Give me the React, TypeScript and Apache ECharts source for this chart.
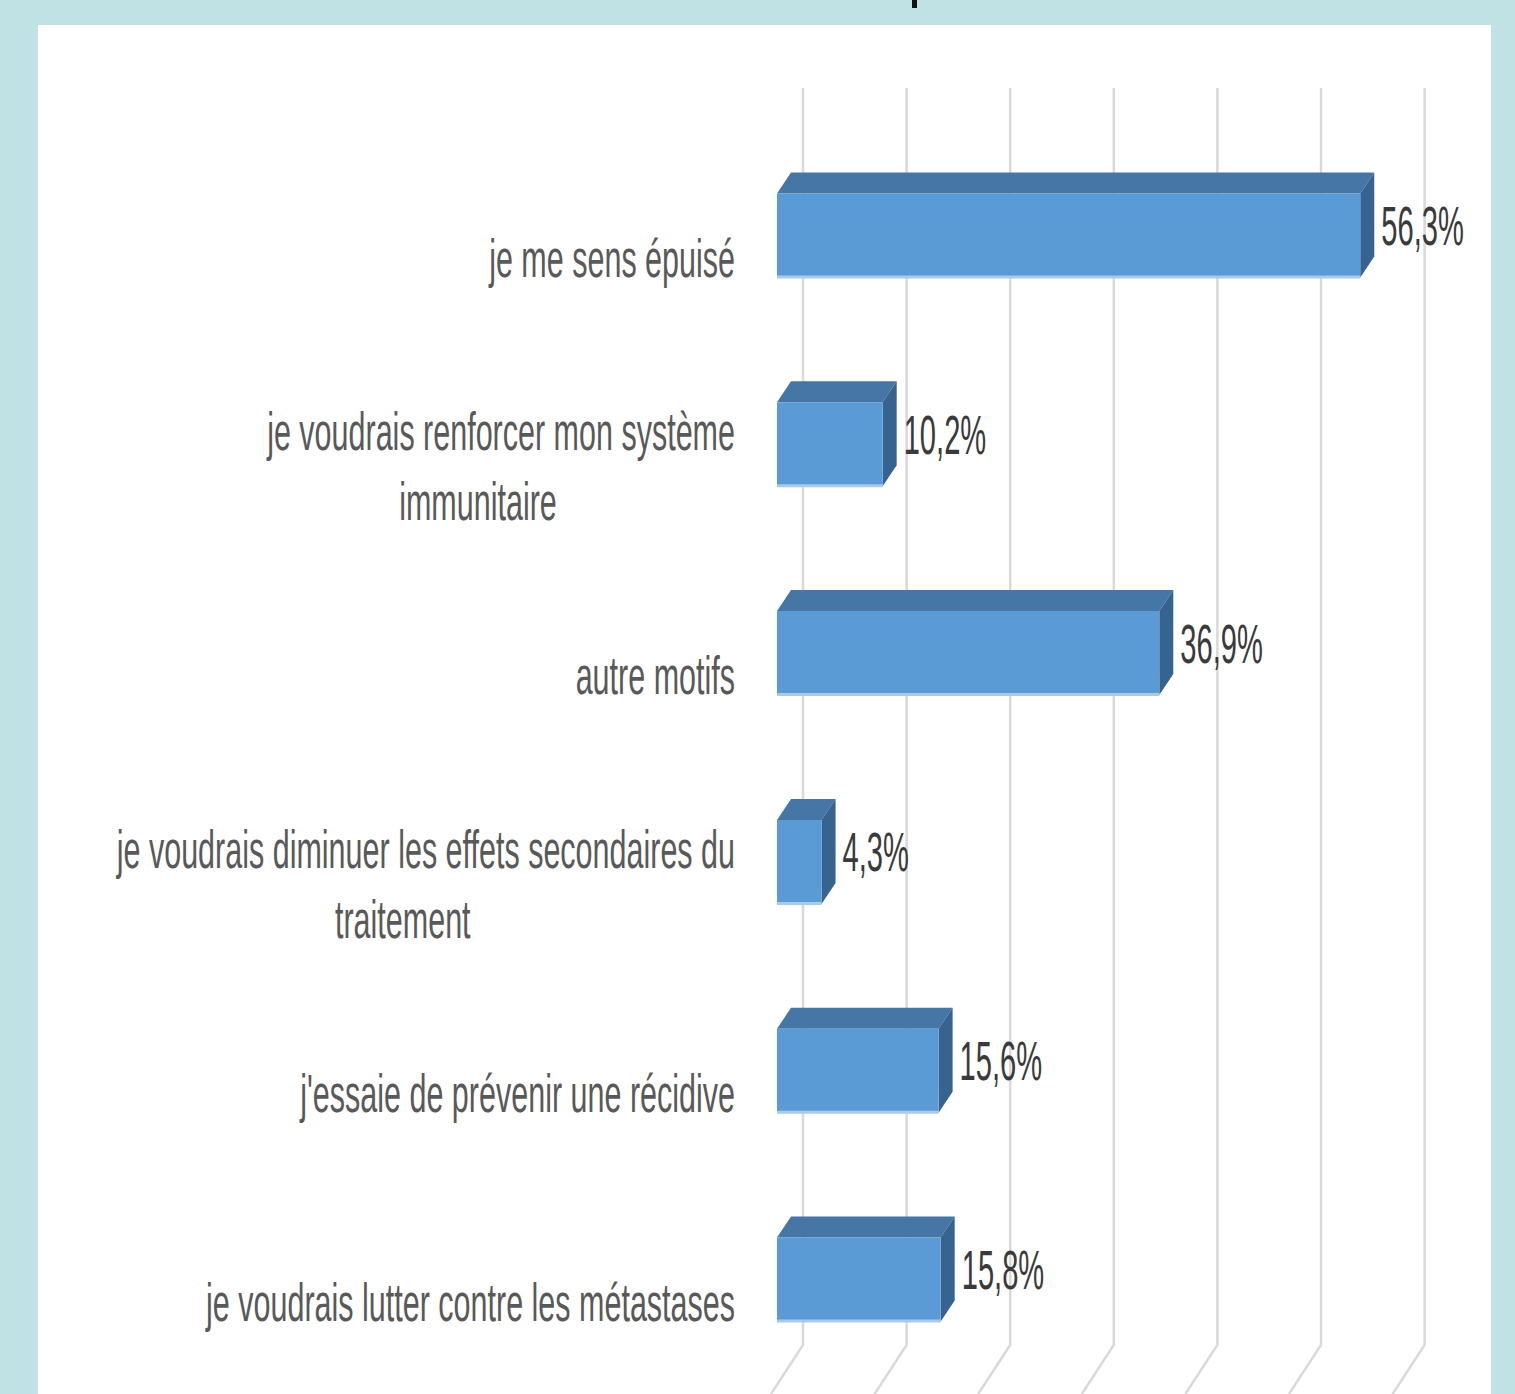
import React, { useEffect, useRef } from 'react';
import * as echarts from 'echarts';

const categories: string[] = [
  'je me sens épuisé',
  'je voudrais renforcer mon système\nimmunitaire',
  'autre motifs',
  'je voudrais diminuer les effets secondaires du\ntraitement',
  "j'essaie de prévenir une récidive",
  'je voudrais lutter contre les métastases',
];
const values: number[] = [56.3, 10.2, 36.9, 4.3, 15.6, 15.8];
const gridTicks: number[] = [0, 10, 20, 30, 40, 50, 60];

const FONT = '"Liberation Sans", Arial, sans-serif';
const CAT_SIZE = 54;
const CAT_SCALE = 0.565;
const VAL_SIZE = 56;
const VAL_SCALE = 0.52;

const DX = 14; // bar depth offset x
const DY = -21; // bar depth offset y
const WALL = 26; // back wall offset

function measure(text: string, size: number): number {
  const c = document.createElement('canvas').getContext('2d');
  if (!c) return text.length * size * 0.5;
  c.font = `${size}px ${FONT}`;
  return c.measureText(text).width;
}

function fmt(v: number): string {
  return v.toFixed(1).replace('.', ',') + '%';
}

export default function App() {
  const ref = useRef<HTMLDivElement>(null);
  useEffect(() => {
    if (!ref.current) return;
    const chart = echarts.init(ref.current, undefined, { renderer: 'svg' });

    const barData = values.map((v, i) => [v, i]);
    const tickData = gridTicks.map((t) => [t, 0]);

    const option: any = {
      animation: false,
      backgroundColor: '#c0e2e4',
      graphic: [
        {
          type: 'rect',
          z: -10,
          shape: { x: 38, y: 25, width: 1453, height: 1400 },
          style: { fill: '#ffffff' },
        },
        {
          type: 'rect',
          z: 100,
          shape: { x: 912, y: 0, width: 5, height: 8 },
          style: { fill: '#111111' },
        },
      ],
      grid: { left: 777, right: 116.4, top: 131, bottom: 10 },
      xAxis: {
        type: 'value',
        min: 0,
        max: 60,
        interval: 10,
        show: false,
      },
      yAxis: {
        type: 'category',
        data: categories,
        inverse: true,
        show: false,
      },
      series: [
        {
          type: 'custom',
          z: 1,
          data: tickData,
          encode: { x: 0, y: 1 },
          clip: false,
          renderItem: (params: any, api: any) => {
            const x = api.coord([api.value(0), 0])[0] + WALL;
            return {
              type: 'polyline',
              shape: { points: [[x, 88], [x, 1345], [x - 32, 1394]] },
              style: { stroke: '#d9d9d9', lineWidth: 2.5, fill: 'none' },
            };
          },
        },
        {
          type: 'custom',
          z: 2,
          data: barData,
          encode: { x: 0, y: 1 },
          clip: false,
          renderItem: (params: any, api: any) => {
            const v = api.value(0);
            const i = api.value(1);
            const p0 = api.coord([0, i]);
            const p1 = api.coord([v, i]);
            const band = api.size([0, 1])[1];
            const h = band * 0.402;
            const cy = p0[1];
            const top = cy - h / 2;
            const bottom = cy + h / 2;
            const x0 = p0[0];
            const x1 = p1[0];
            const children: any[] = [];
            // top face
            children.push({
              type: 'polygon',
              shape: { points: [[x0, top], [x0 + DX, top + DY], [x1 + DX, top + DY], [x1, top]] },
              style: { fill: '#4676a5' },
            });
            // side face
            children.push({
              type: 'polygon',
              shape: { points: [[x1, top], [x1 + DX, top + DY], [x1 + DX, bottom + DY], [x1, bottom]] },
              style: { fill: '#36638f' },
            });
            // front face
            children.push({
              type: 'rect',
              shape: { x: x0, y: top, width: x1 - x0, height: h },
              style: { fill: '#5b9bd5' },
            });
            children.push({
              type: 'rect',
              shape: { x: x0, y: bottom - 2, width: x1 - x0, height: 3 },
              style: { fill: '#a9caea' },
            });
            // value label
            children.push({
              type: 'text',
              x: x1 + DX + 7,
              y: cy - 10,
              scaleX: VAL_SCALE,
              style: {
                text: fmt(v),
                fill: '#3a3a3a',
                fontSize: VAL_SIZE,
                fontFamily: FONT,
                align: 'left',
                verticalAlign: 'middle',
              },
            });
            // category label
            const lines = categories[i].split('\n');
            const right = x0 - 42;
            const center = cy + 22;
            const lineH = 70;
            if (lines.length === 1) {
              children.push({
                type: 'text',
                x: right,
                y: center,
                scaleX: CAT_SCALE,
                style: {
                  text: lines[0],
                  fill: '#595959',
                  fontSize: CAT_SIZE,
                  fontFamily: FONT,
                  align: 'right',
                  verticalAlign: 'middle',
                },
              });
            } else {
              const w = measure(lines[0], CAT_SIZE) * CAT_SCALE;
              const cx = right - w / 2 - 23;
              lines.forEach((ln, k) => {
                const first = k === 0;
                children.push({
                  type: 'text',
                  x: first ? right : cx,
                  y: center + (k - (lines.length - 1) / 2) * lineH,
                  scaleX: CAT_SCALE,
                  style: {
                    text: ln,
                    fill: '#595959',
                    fontSize: CAT_SIZE,
                    fontFamily: FONT,
                    align: first ? 'right' : 'center',
                    verticalAlign: 'middle',
                  },
                });
              });
            }
            return { type: 'group', children };
          },
        },
      ],
    };
    chart.setOption(option);
    return () => chart.dispose();
  }, []);
  return (
    <div
      ref={ref}
      style={{ position: 'absolute', left: 0, top: 0, width: 1515, height: 1394 }}
    />
  );
}
